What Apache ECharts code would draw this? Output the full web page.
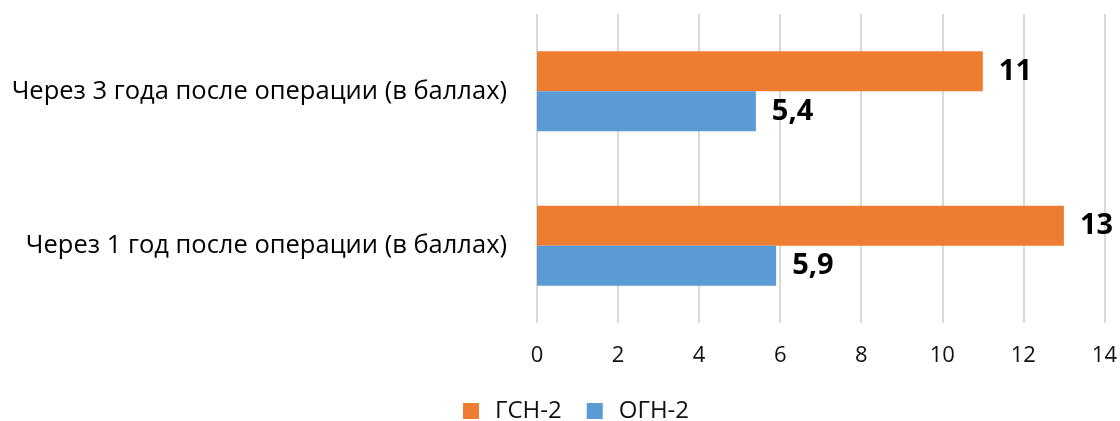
<!DOCTYPE html>
<html><head><meta charset="utf-8">
<script src="https://cdn.jsdelivr.net/npm/echarts@6/dist/echarts.min.js"></script>
<style>html,body{margin:0;padding:0;background:#fff}#c{width:1120px;height:421px}</style>
</head><body><div id="c"></div>
<script>
const categories = ['Через 1 год после операции (в баллах)', 'Через 3 года после операции (в баллах)'];
const gsnValues = [13, 11];
const ognValues = [5.9, 5.4];
const seriesNames = ['ГСН-2', 'ОГН-2'];
const xTicks = [0, 14, 2];

const font = '"Open Sans", sans-serif';
const chart = echarts.init(document.getElementById('c'));
const lbl = {
  show: true, position: 'right', distance: 16,
  fontFamily: font, fontWeight: 'bold', fontSize: 29, color: '#000',
  formatter: p => String(p.value).replace('.', ',')
};
chart.setOption({
  animation: false,
  legend: {
    bottom: -2, left: 463, itemWidth: 16, itemHeight: 16, itemGap: 25, padding: [0, 0, 0, 0],
    icon: 'rect', data: seriesNames,
    textStyle: { fontFamily: font, fontSize: 24, color: '#111', padding: [0, 0, 0, 11] }
  },
  grid: { left: 537, right: 14, top: 14, bottom: 98, containLabel: false },
  xAxis: {
    type: 'value', min: xTicks[0], max: xTicks[1], interval: xTicks[2],
    axisLine: { show: false }, axisTick: { show: false },
    splitLine: { lineStyle: { color: '#d9d9d9', width: 2 } },
    axisLabel: { fontFamily: font, fontSize: 22, color: '#111', margin: 22 }
  },
  yAxis: {
    type: 'category', data: categories,
    axisLine: { show: false }, axisTick: { show: false },
    axisLabel: { fontFamily: font, fontSize: 25.5, color: '#000', margin: 30 }
  },
  series: [
    { name: seriesNames[0], type: 'bar', data: gsnValues, barWidth: 40, barGap: '0%',
      itemStyle: { color: '#ed7d31' }, label: lbl },
    { name: seriesNames[1], type: 'bar', data: ognValues, barWidth: 40, barGap: '0%',
      itemStyle: { color: '#5b9bd5' }, label: lbl }
  ]
});
</script></body></html>
